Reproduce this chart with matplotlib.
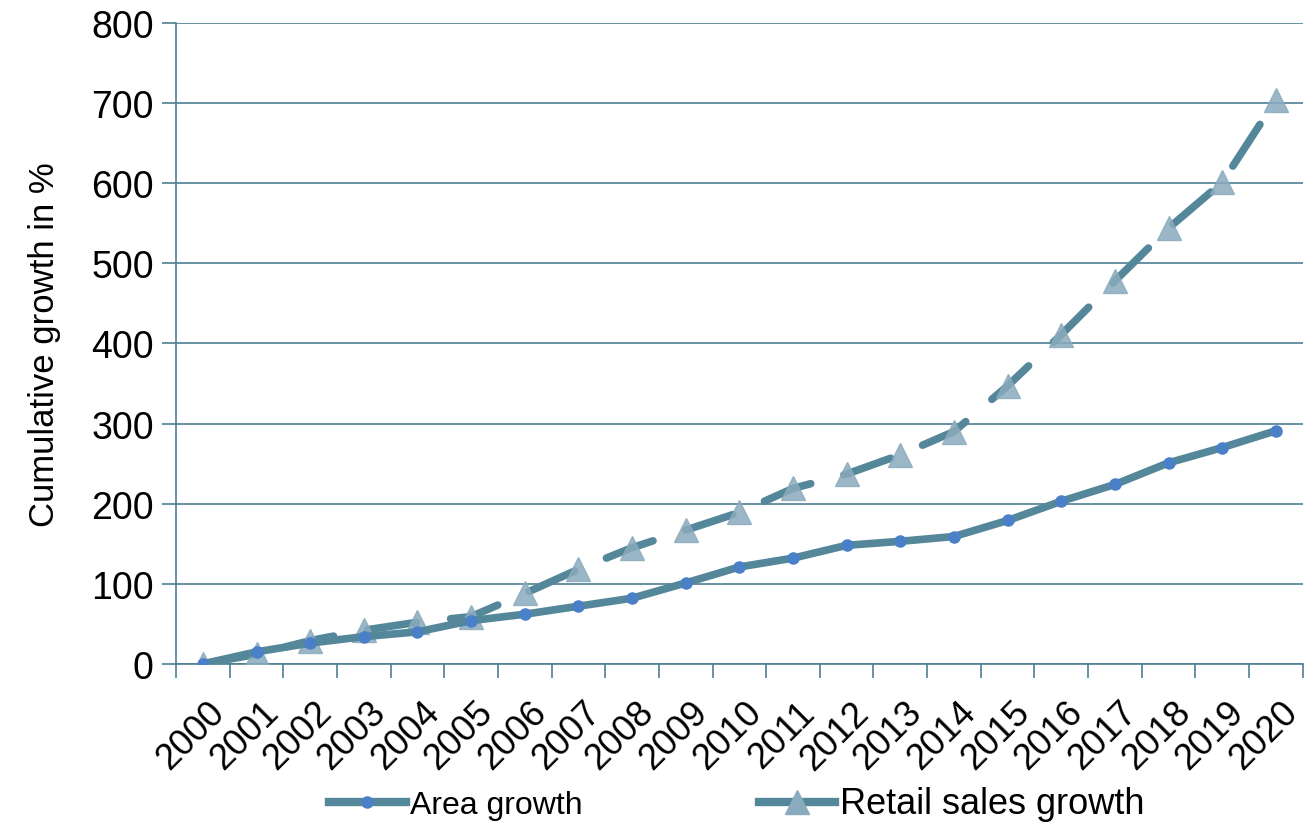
import numpy as np
import matplotlib
matplotlib.use('Agg')
import matplotlib.pyplot as plt
from matplotlib.lines import Line2D
import matplotlib.transforms as mtransforms

plt.rcParams['font.family'] = ['Liberation Sans', 'DejaVu Sans']

years = [str(y) for y in range(2000, 2021)]
area_growth = [0, 15, 26, 34, 40, 54, 62, 72, 82, 101, 121, 132, 148, 153, 159, 179,
               203, 224, 251, 270, 291]
retail_growth = [0, 12, 29, 42, 52, 59, 88, 118, 145, 167, 189, 219, 237, 261, 290, 347,
                 411, 478, 544, 601, 704]
y_ticks = [0, 100, 200, 300, 400, 500, 600, 700, 800]

line_col = '#55879a'
grid_col = '#4d7f94'
circle_col = '#4a80c8'
tri_col = '#8aabbd'

fig = plt.figure(figsize=(13.04, 8.28), dpi=100)
ax = fig.add_axes([0.135, 0.197, 0.864, 0.774])

x = np.arange(len(years))
ax.plot(x, retail_growth, color=line_col, lw=5.5, linestyle=(0, (6.5, 4.5)),
        dash_capstyle='round', zorder=3)
ax.plot(x, retail_growth, linestyle='none', marker='^', ms=17,
        markerfacecolor=tri_col, markeredgecolor=tri_col, alpha=0.85, zorder=4)
ax.plot(x, area_growth, color=line_col, lw=5.5, solid_capstyle='round', zorder=5,
        marker='o', ms=8, markerfacecolor=circle_col, markeredgecolor=circle_col)

ax.set_xlim(-0.5, len(years) - 0.5)
ax.set_ylim(0, 800)
ax.set_yticks(y_ticks)
ax.yaxis.grid(True, color=grid_col, lw=1.2)
ax.set_axisbelow(True)
ax.tick_params(axis='y', labelsize=27, length=10, width=1.2, color=grid_col, pad=6)

# tick marks at category boundaries, labels at centres
ax.set_xticks(np.arange(-0.5, len(years), 1.0), minor=True)
ax.set_xticks(x)
ax.set_xticklabels(years, rotation=45, ha='right', va='top', rotation_mode='anchor',
                   fontsize=26)
ax.tick_params(axis='x', which='major', length=0, pad=22)
ax.tick_params(axis='x', which='minor', length=10, width=1.2, color=grid_col)
offset = mtransforms.ScaledTranslation(4 / 100, 0, fig.dpi_scale_trans)
for lbl in ax.get_xticklabels():
    lbl.set_transform(lbl.get_transform() + offset)

for s in ['top', 'right']:
    ax.spines[s].set_visible(False)
for s in ['left', 'bottom']:
    ax.spines[s].set_color(grid_col)
    ax.spines[s].set_linewidth(1.2)

ax.set_ylabel('Cumulative growth in %', fontsize=25, labelpad=22)

handles = [
    Line2D([], [], color=line_col, lw=6, marker='o', ms=8,
           markerfacecolor=circle_col, markeredgecolor=circle_col),
    Line2D([], [], color=line_col, lw=6, marker='^', ms=17,
           markerfacecolor=tri_col, markeredgecolor=tri_col),
]
leg = fig.legend(handles, ['Area growth', 'Retail sales growth'], loc='lower center',
                 bbox_to_anchor=(0.565, -0.028), ncol=2, frameon=False, fontsize=23,
                 handlelength=2.4, handletextpad=0.15, columnspacing=5.5)
leg.get_texts()[1].set_fontsize(26)

fig.savefig('out.png', dpi=100)
